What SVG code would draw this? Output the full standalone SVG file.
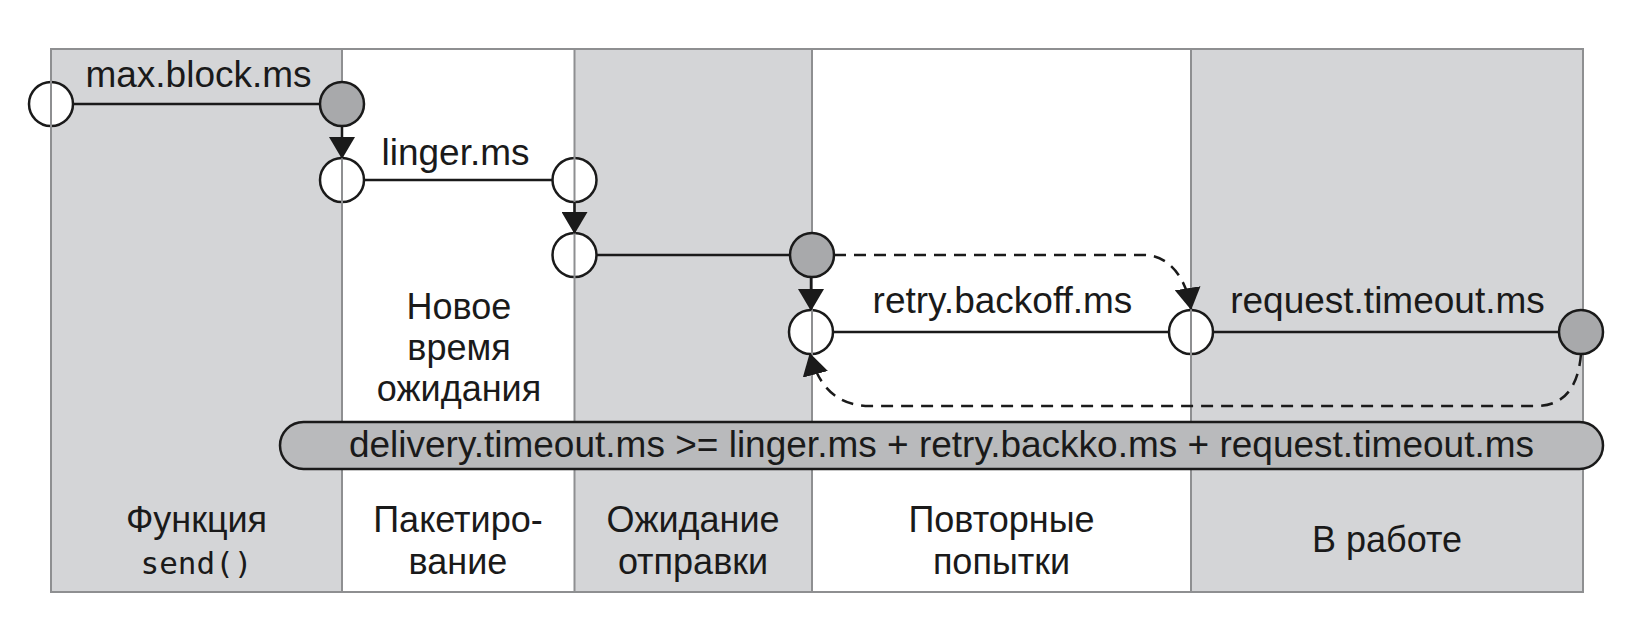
<svg xmlns="http://www.w3.org/2000/svg" width="1626" height="638" viewBox="0 0 1626 638">
<style>
.bg{fill:#d4d5d7;stroke:none}
.grid{stroke:#8e8f91;stroke-width:2;fill:none}
.open{fill:#ffffff;stroke:#1a1a1a;stroke-width:2.5}
.full{fill:#a8a9ab;stroke:#1a1a1a;stroke-width:2.5}
.ln{stroke:#1a1a1a;stroke-width:2.5;fill:none}
.dash{stroke:#1a1a1a;stroke-width:2.5;fill:none;stroke-dasharray:12 8}
.t{font-family:"Liberation Sans",Arial,sans-serif;font-size:37px;fill:#1a1a1a;text-anchor:middle}
.b{font-family:"Liberation Sans",Arial,sans-serif;font-size:36px;fill:#1a1a1a;text-anchor:middle}
.mono{font-family:"DejaVu Sans Mono","Liberation Mono",monospace;font-size:31px;fill:#1a1a1a;text-anchor:middle}
.pill{fill:#b9babc;stroke:#1a1a1a;stroke-width:2.5}
</style>
<defs>
<marker id="arr" viewBox="0 0 22 26" refX="21" refY="13" markerWidth="22" markerHeight="26" markerUnits="userSpaceOnUse" orient="auto">
<path d="M0,0 L22,13 L0,26 z" fill="#1a1a1a"/>
</marker>
</defs>
<rect width="1626" height="638" fill="#ffffff"/>
<g id="columns">
<rect class="bg" x="51" y="49" width="291" height="543"/>
<rect class="bg" x="574.5" y="49" width="237.5" height="543"/>
<rect class="bg" x="1191" y="49" width="392" height="543"/>
</g>
<g id="n1"><circle class="open" cx="51" cy="104" r="22"/></g>
<g id="n3"><circle class="open" cx="342" cy="180" r="22"/></g>
<g id="n4"><circle class="open" cx="574.5" cy="180" r="22"/></g>
<g id="n5"><circle class="open" cx="574.5" cy="255" r="22"/></g>
<g id="n7"><circle class="open" cx="811" cy="332" r="22"/></g>
<g id="n8"><circle class="open" cx="1191" cy="332" r="22"/></g>
<g id="grid">
<rect class="grid" x="51" y="49" width="1532" height="543"/>
<line class="grid" x1="342" y1="49" x2="342" y2="592"/>
<line class="grid" x1="574.5" y1="49" x2="574.5" y2="592"/>
<line class="grid" x1="812" y1="49" x2="812" y2="592"/>
<line class="grid" x1="1191" y1="49" x2="1191" y2="592"/>
</g>
<g id="connectors">
<line class="ln" x1="73" y1="104" x2="320" y2="104"/>
<line class="ln" x1="342" y1="126" x2="342" y2="158" marker-end="url(#arr)"/>
<line class="ln" x1="364" y1="180" x2="552.5" y2="180"/>
<line class="ln" x1="574.5" y1="202" x2="574.5" y2="233" marker-end="url(#arr)"/>
<line class="ln" x1="596.5" y1="255" x2="790" y2="255"/>
<line class="ln" x1="811" y1="277" x2="811" y2="310" marker-end="url(#arr)"/>
<line class="ln" x1="833" y1="332" x2="1169" y2="332"/>
<line class="ln" x1="1213" y1="332" x2="1559" y2="332"/>
<path class="dash" d="M834 255 H1145 C1170 256 1186 278 1191 309" marker-end="url(#arr)"/>
<path class="dash" d="M1581 354 C1578 390 1562 406 1536 406 H870 C842 406 820 392 810 354" marker-end="url(#arr)"/>
</g>
<g id="n2"><circle class="full" cx="342" cy="104" r="22"/></g>
<g id="n6"><circle class="full" cx="812" cy="255" r="22"/></g>
<g id="n9"><circle class="full" cx="1581" cy="332" r="22"/></g>
<g id="formula">
<rect class="pill" x="280" y="422" width="1323" height="47" rx="23.5" ry="23.5"/>
<text class="t" x="941.5" y="457">delivery.timeout.ms &gt;= linger.ms + retry.backko.ms + request.timeout.ms</text>
</g>
<g id="labels">
<text class="t" x="198.5" y="87">max.block.ms</text>
<text class="t" x="455.5" y="165">linger.ms</text>
<text class="t" x="1002.5" y="313">retry.backoff.ms</text>
<text class="t" x="1387.5" y="313">request.timeout.ms</text>
<text class="b" x="459" y="319">Новое</text>
<text class="b" x="459" y="360">время</text>
<text class="b" x="459" y="401">ожидания</text>
</g>
<g id="stages">
<text class="b" x="196.5" y="532">Функция</text>
<text class="mono" x="196.5" y="574">send()</text>
<text class="b" x="458" y="532">Пакетиро-</text>
<text class="b" x="458" y="574">вание</text>
<text class="b" x="693" y="532">Ожидание</text>
<text class="b" x="693" y="574">отправки</text>
<text class="b" x="1001.5" y="532">Повторные</text>
<text class="b" x="1001.5" y="574">попытки</text>
<text class="b" x="1387" y="552">В работе</text>
</g>
</svg>
